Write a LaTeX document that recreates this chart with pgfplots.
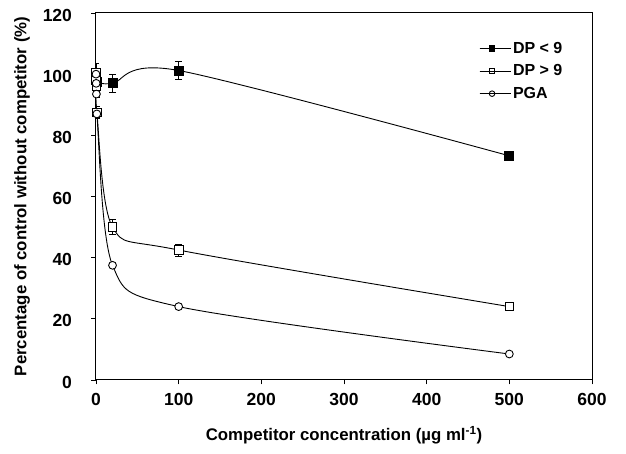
\documentclass[border=0pt]{standalone}
\usepackage{pgfplots}
\pgfplotsset{compat=1.18}
\usepackage{fontspec}
\setmainfont{Liberation Sans}

% x  y  err
\pgfplotstableread{
x y e
0 99 2
0.25 98.5 2
0.5 98 2
1 97.5 2
20 97 3
100 101.2 3
500 73.3 1.5
}\dpsmall
\pgfplotstableread{
x y e
0 100.5 3
0.25 98 2
0.5 96 2
1 87.5 2
20 50 2.5
100 42.5 2
500 24 1
}\dplarge
\pgfplotstableread{
x y e
0 100 1
0.25 97 1
0.5 93.5 1
1 87 1
20 37.5 0.5
100 24 0.5
500 8.5 0.5
}\pga

\begin{document}
\begin{tikzpicture}
\begin{axis}[
    name=main,
    scale only axis,
    width=496pt, height=367pt,
    xmin=0, xmax=600, ymin=0, ymax=120,
    xtick={0,100,...,600}, ytick={0,20,...,120},
    axis line style={line width=1pt},
    tick style={black, line width=0.9pt},
    tick align=outside,
    major tick length=4.5pt,
    xtick pos=bottom, ytick pos=left,
    /pgf/number format/assume math mode=true,
    tick label style={font=\bfseries\fontsize{17.5}{19}\selectfont},
    yticklabel style={xshift=-16pt, yshift=-2pt},
    xticklabel style={yshift=-5pt},
    label style={font=\bfseries\fontsize{16.8}{19}\selectfont},
    xlabel={Competitor concentration (µg ml\textsuperscript{-1})},
    ylabel={Percentage of control without competitor (\%)},
    xlabel style={yshift=-14pt},
    ylabel style={yshift=6pt},
    legend style={draw=none, fill=none, at={(0.772,0.927)}, anchor=north west,
        font=\bfseries\fontsize{16}{18}\selectfont, row sep=6pt,
        inner sep=0pt},
    legend cell align=left,
    legend image code/.code={
        \draw[#1, mark size=2.8pt, mark repeat=2, mark phase=2]
        plot coordinates {(0pt,0pt) (12.5pt,0pt) (25pt,0pt)};
        \path (0pt,0pt) -- (31pt,0pt);},
    error bars/error bar style={black, line width=0.8pt},
    error bars/error mark options={rotate=90, mark size=3.5pt, black, line width=0.8pt},
]
\addplot[black, line width=0.9pt, smooth, tension=0.5,
    mark=square*, mark size=4.5pt, mark options={fill=black, solid},
    error bars/.cd, y dir=both, y explicit]
    table[x=x, y=y, y error=e] {\dpsmall};
\addlegendentry{DP < 9}
\addplot[black, line width=0.9pt, smooth, tension=0.5,
    mark=square*, mark size=4.3pt, mark options={fill=white, solid},
    error bars/.cd, y dir=both, y explicit]
    table[x=x, y=y, y error=e] {\dplarge};
\addlegendentry{DP > 9}
\addplot[black, line width=0.9pt, smooth, tension=0.5,
    mark=*, mark size=3.9pt, mark options={fill=white, solid},
    error bars/.cd, y dir=both, y explicit]
    table[x=x, y=y, y error=e] {\pga};
\addlegendentry{PGA}
\end{axis}
\useasboundingbox ([shift={(-96pt,-74pt)}]main.south west) rectangle ([shift={(34pt,13pt)}]main.north east);
\end{tikzpicture}
\end{document}
